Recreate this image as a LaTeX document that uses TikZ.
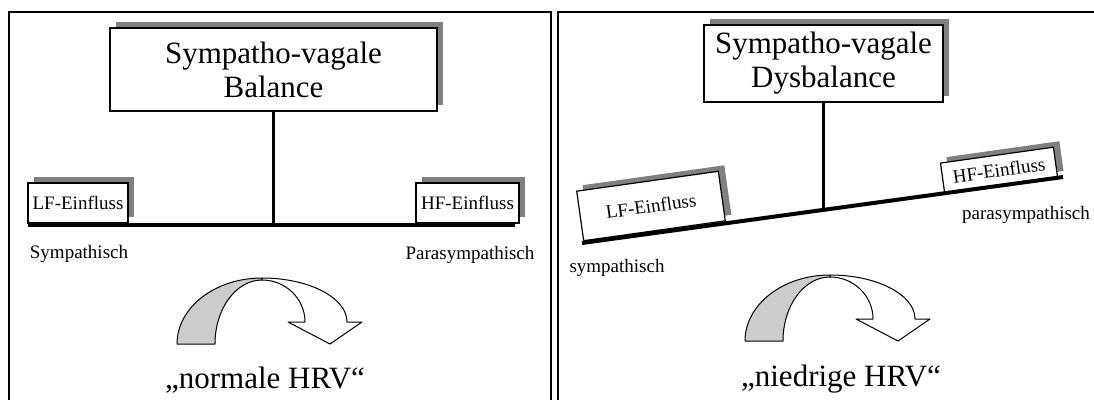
\documentclass[tikz,border=0pt]{standalone}
\usepackage{fontspec}
\setmainfont{Liberation Serif}
\usetikzlibrary{shadows}
\definecolor{shadowgray}{RGB}{128,128,128}
\definecolor{arrowgray}{RGB}{204,204,204}
\begin{document}
\begin{tikzpicture}[x=1pt,y=-1pt,
  panel/.style={line width=1.6pt},
  box/.style={draw, line width=1.2pt, fill=white, inner sep=0pt,
    drop shadow={shadow xshift=6pt, shadow yshift=6pt, fill=shadowgray, opacity=1}},
  bigtext/.style={font=\fontsize{31}{34}\selectfont},
  smalltext/.style={font=\fontsize{19}{22}\selectfont},
  lbl/.style={inner sep=0pt},
  bar/.style={line width=4pt},
  stem/.style={line width=3.5pt},
  arrowback/.style={draw, line width=1pt, fill=arrowgray, line join=round},
  arrowfront/.style={draw, line width=1pt, fill=white, line join=round},
]
\useasboundingbox (0,0) rectangle (1094,399);

% panels
\draw[panel] (9,400) -- (9,12) -- (551,12) -- (551,400);
\draw[panel] (558,400) -- (558,12) -- (1095,12);

% ---------- left panel ----------
\node[box, bigtext, align=center, minimum width=327pt, minimum height=83pt] (bal) at (273.5,69.5) {Sympatho-vagale\\Balance};
\node[box, smalltext, minimum width=100pt, minimum height=40pt] (lf1) at (78,203) {LF-Einfluss};
\node[box, smalltext, minimum width=103pt, minimum height=40pt] (hf1) at (467.5,203) {HF-Einfluss};
\coordinate (b1l) at (28,225);
\coordinate (b1r) at (515,225);
\draw[bar] (b1l) -- (b1r);
\draw[stem] (bal.south) -- (bal.south |- b1l);
\node[smalltext, lbl] (sym1) at (79,254) {Sympathisch};
\node[smalltext, lbl] (para1) at (470,255) {Parasympathisch};
\node[bigtext, lbl, anchor=base] (hrv1) at (265,388) {„normale HRV“};

\draw[arrowback] (177,344) .. controls (177,307.5) and (215,278) .. (262,278)
  -- (262,280) .. controls (236,280) and (215,308.7) .. (215,344) -- cycle;
\draw[arrowfront] (262,278) .. controls (309,278) and (347,297.7) .. (347,322)
  -- (362,322) -- (330,344) -- (288,322) -- (305,322)
  .. controls (305,298.8) and (285.7,280) .. (262,280) -- cycle;

% ---------- right panel ----------
\node[box, bigtext, align=center, minimum width=239pt, minimum height=77pt] (dys) at (823.5,63.5) {Sympatho-vagale\\Dysbalance};
\node[box, smalltext, minimum width=143pt, minimum height=50pt, rotate=8] (lf2) at (651,206) {LF-Einfluss};
\node[box, smalltext, minimum width=114pt, minimum height=30pt, rotate=8] (hf2) at (999,170) {HF-Einfluss};
\coordinate (b2l) at (582,243);
\coordinate (b2r) at (1063,177);
\coordinate (b2m) at (823.5,210);
\draw[bar] (b2l) -- (b2r);
\draw[stem] (dys.south) -- (b2m);
\node[smalltext, lbl] (sym2) at (617,268) {sympathisch};
\node[smalltext, lbl] (para2) at (1026,215) {parasympathisch};
\node[bigtext, lbl, anchor=base] (hrv2) at (841,386) {„niedrige HRV“};

\begin{scope}[shift={(568,-3)}]
\draw[arrowback] (177,344) .. controls (177,307.5) and (215,278) .. (262,278)
  -- (262,280) .. controls (236,280) and (215,308.7) .. (215,344) -- cycle;
\draw[arrowfront] (262,278) .. controls (309,278) and (347,297.7) .. (347,322)
  -- (362,322) -- (330,344) -- (288,322) -- (305,322)
  .. controls (305,298.8) and (285.7,280) .. (262,280) -- cycle;
\end{scope}
\end{tikzpicture}
\end{document}
